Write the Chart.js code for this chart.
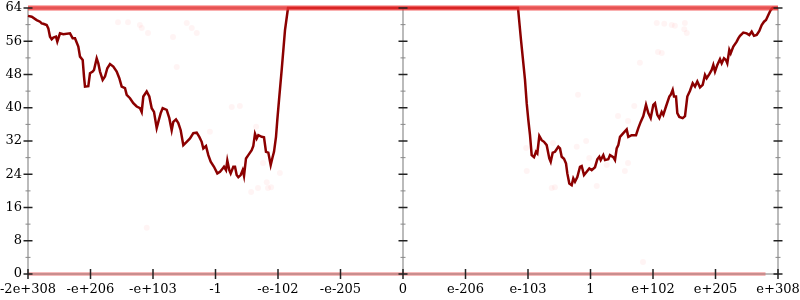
<!DOCTYPE html>
<html lang="en">
<head>
    <meta charset="UTF-8">
    <title>Float spread chart</title>
    <script src="https://cdn.jsdelivr.net/npm/chart.js"></script>
    <style>
        html, body { margin: 0; padding: 0; background: #fff; }
        .chart-container { position: relative; width: 800px; height: 300px; }
    </style>
</head>
<body>
    <div class="chart-container">
        <canvas id="spreadChart" width="800" height="300"></canvas>
    </div>

    <script>
        // Tick labels of the x axis (one per unit from -6 to 6)
        const xTickLabels = ['-2e+308', '-e+206', '-e+103', '-1', '-e-102', '-e-205', '0',
                             'e-206', 'e-103', '1', 'e+102', 'e+205', 'e+308'];
        const yTicks = [0, 8, 16, 24, 32, 40, 48, 56, 64];

        // Main dark red curve
        const curveX = [-6.0, -5.94, -5.861, -5.808, -5.781, -5.755, -5.701, -5.675, -5.648, -5.621,
            -5.595, -5.552, -5.531, -5.488, -5.435, -5.328, -5.285, -5.248, -5.195, -5.168,
            -5.125, -5.104, -5.088, -5.035, -5.008, -4.965, -4.944, -4.901, -4.875, -4.848,
            -4.805, -4.768, -4.731, -4.688, -4.635, -4.581, -4.539, -4.501, -4.448, -4.421,
            -4.368, -4.315, -4.261, -4.208, -4.181, -4.155, -4.101, -4.059, -4.021, -3.984,
            -3.941, -3.915, -3.877, -3.845, -3.781, -3.739, -3.701, -3.675, -3.632, -3.595,
            -3.557, -3.515, -3.461, -3.408, -3.355, -3.301, -3.259, -3.221, -3.195, -3.152,
            -3.115, -3.077, -3.024, -2.971, -2.928, -2.885, -2.864, -2.832, -2.811, -2.779,
            -2.757, -2.715, -2.688, -2.661, -2.635, -2.597, -2.565, -2.544, -2.512, -2.475,
            -2.421, -2.395, -2.368, -2.341, -2.315, -2.261, -2.224, -2.192, -2.155, -2.117,
            -2.085, -2.064, -2.032, -2.011, -1.979, -1.941, -1.888, -1.84,
            1.84, 1.888, 1.952, 1.979, 2.005, 2.032, 2.059, 2.096, 2.128, 2.149,
            2.181, 2.219, 2.256, 2.299, 2.341, 2.363, 2.395, 2.432, 2.485, 2.512,
            2.539, 2.576, 2.608, 2.629, 2.661, 2.699, 2.725, 2.752, 2.789, 2.832,
            2.859, 2.896, 2.939, 2.981, 3.019, 3.072, 3.109, 3.141, 3.163, 3.205,
            3.232, 3.285, 3.312, 3.365, 3.392, 3.419, 3.445, 3.472, 3.525, 3.579,
            3.605, 3.659, 3.728, 3.765, 3.803, 3.845, 3.888, 3.925, 3.963, 4.005,
            4.032, 4.069, 4.101, 4.139, 4.165, 4.208, 4.261, 4.283, 4.315, 4.336,
            4.368, 4.389, 4.421, 4.475, 4.512, 4.549, 4.592, 4.635, 4.672, 4.709,
            4.752, 4.795, 4.832, 4.859, 4.901, 4.939, 4.965, 4.992, 5.029, 5.072,
            5.099, 5.136, 5.168, 5.189, 5.221, 5.243, 5.285, 5.339, 5.365, 5.392,
            5.445, 5.499, 5.541, 5.579, 5.616, 5.659, 5.701, 5.739, 5.776, 5.808,
            5.845, 5.883, 5.915, 6.0];
        const curveY = [62.1, 61.9, 61.1, 60.7, 60.3, 60.2, 59.9, 59.1, 57.1, 56.5,
            56.9, 57.1, 55.9, 57.9, 57.7, 57.9, 56.7, 56.7, 54.7, 52.3,
            51.5, 47.5, 45.1, 45.2, 48.3, 48.7, 49.1, 51.9, 50.7, 48.7,
            46.7, 47.5, 49.5, 50.5, 49.9, 48.7, 47.1, 45.1, 44.7, 43.1,
            42.3, 41.1, 40.3, 39.9, 39.0, 42.7, 43.9, 42.7, 39.9, 39.0,
            35.1, 36.6, 38.7, 39.9, 39.5, 37.5, 34.6, 36.6, 37.2, 36.3,
            34.6, 31.0, 31.8, 32.6, 33.9, 34.0, 33.0, 31.8, 30.2, 30.8,
            28.6, 27.0, 25.8, 24.2, 24.6, 25.4, 25.8, 25.0, 27.3, 25.0,
            24.2, 25.8, 25.8, 23.8, 23.3, 23.8, 25.0, 23.6, 27.8, 28.6,
            29.8, 30.8, 33.7, 32.6, 33.4, 33.0, 32.9, 29.4, 29.2, 26.2,
            28.2, 29.4, 33.0, 37.1, 42.7, 49.1, 58.7, 64,
            64, 56.3, 46.7, 41.1, 37.1, 33.4, 28.6, 28.1, 29.4, 29.0,
            33.2, 32.2, 31.8, 31.0, 27.8, 27.0, 29.2, 29.4, 30.6, 30.2,
            28.2, 27.7, 26.6, 24.2, 21.8, 21.4, 23.0, 22.2, 23.3, 25.8,
            26.0, 23.8, 24.6, 25.4, 25.0, 25.7, 27.6, 28.2, 27.4, 28.6,
            27.4, 27.6, 28.6, 28.1, 27.4, 30.2, 31.0, 33.0, 33.9, 34.8,
            33.0, 33.4, 33.4, 35.1, 36.6, 38.0, 40.7, 38.7, 37.5, 40.7,
            41.1, 38.3, 37.5, 39.0, 38.3, 40.3, 42.7, 43.1, 44.3, 42.7,
            42.7, 38.7, 37.8, 37.5, 38.0, 42.7, 44.1, 45.9, 45.1, 46.3,
            44.9, 45.5, 47.9, 47.1, 48.1, 49.1, 50.3, 48.7, 50.3, 51.7,
            50.7, 51.9, 51.5, 50.7, 53.9, 53.1, 54.7, 55.9, 56.7, 57.3,
            58.1, 57.9, 57.5, 58.3, 57.3, 57.5, 58.5, 59.9, 60.7, 61.1,
            62.3, 63.5, 64, 64];

        // Dense bands of faint samples along the top and bottom
        const topBandX = [-6, 6];
        const topBandY = [64, 64];
        const bottomBandX = [-6, 5.8];
        const bottomBandY = [0, 0];

        // Sparse faint samples
        const dotX = [-4.56, -4.40, -4.21, -4.18, -4.08, -3.68, -3.62, -3.46, -3.38, -3.30,
            -2.74, -2.61, -3.09, -2.35, -2.24, -2.18, -1.97, -2.43, -2.32, -2.16, -2.11,
            2.80, 3.70, 3.44, 3.60, 2.40, 2.78, 2.93, 1.97, 2.98, 3.60, 3.55, 1.98, 2.14,
            2.38, 2.43, 3.10, 3.26, 4.06, 4.18, 4.30, 4.35, 4.51, 4.50, 4.54, 4.08, 4.14,
            3.79, 3.84, -4.10];
        const dotY = [60.6, 60.6, 59.9, 59.2, 58.0, 57.0, 49.8, 60.4, 59.2, 58.0,
            40.2, 40.4, 34.2, 35.4, 26.7, 22.1, 24.3, 19.7, 20.7, 20.7, 20.9,
            43.1, 40.4, 38.0, 36.8, 31.5, 30.6, 32.0, 30.3, 27.9, 26.7, 24.8, 24.8, 29.6,
            20.7, 20.9, 21.2, 26.2, 60.4, 60.2, 59.9, 59.7, 60.4, 58.9, 58.0, 53.4, 53.2,
            50.8, 2.9, 11.1];

        const toPoints = (xs, ys) => xs.map((x, i) => ({ x: x, y: ys[i] }));
        const axisLines = [-6, 0, 6];
        const serif = "'DejaVu Serif', serif";

        // Tick marks crossing the axis lines
        const axisTicks = {
            id: 'axisTicks',
            afterDatasetsDraw(chart) {
                const c = chart.ctx;
                const xs = chart.scales.x, ys = chart.scales.y;
                c.save();
                axisLines.forEach(v => {
                    const px = xs.getPixelForValue(v);
                    for (let t = 0; t <= 64; t += 4) {
                        const py = ys.getPixelForValue(t);
                        const major = t % 8 === 0;
                        const half = major ? 4.5 : 2.5;
                        c.strokeStyle = major ? '#222' : '#888';
                        c.lineWidth = major ? 1.5 : 1;
                        c.beginPath();
                        c.moveTo(px - half, py);
                        c.lineTo(px + half, py);
                        c.stroke();
                    }
                });
                const y0 = ys.getPixelForValue(0);
                c.strokeStyle = '#222';
                c.lineWidth = 1.5;
                for (let v = -6; v <= 6; v++) {
                    const px = xs.getPixelForValue(v);
                    c.beginPath();
                    c.moveTo(px, y0 - 5);
                    c.lineTo(px, y0 + 5);
                    c.stroke();
                }
                c.restore();
            }
        };

        const ctx = document.getElementById('spreadChart').getContext('2d');
        new Chart(ctx, {
            type: 'scatter',
            data: {
                datasets: [
                    {
                        data: toPoints(dotX, dotY),
                        pointRadius: 3,
                        pointBorderWidth: 0,
                        backgroundColor: 'rgba(255, 0, 0, 0.045)',
                    },
                    {
                        type: 'line',
                        data: toPoints(bottomBandX, bottomBandY),
                        borderColor: 'rgba(230, 60, 60, 0.35)',
                        borderWidth: 4,
                        pointRadius: 0,
                        clip: false,
                    },
                    {
                        type: 'line',
                        data: toPoints(topBandX, topBandY),
                        borderColor: 'rgba(240, 50, 50, 0.75)',
                        borderWidth: 5,
                        pointRadius: 0,
                        clip: false,
                    },
                    {
                        type: 'line',
                        data: toPoints(curveX, curveY),
                        borderColor: '#8b0000',
                        borderWidth: 2.5,
                        pointRadius: 0,
                        tension: 0,
                        clip: false,
                    }
                ]
            },
            options: {
                responsive: false,
                animation: false,
                layout: { padding: { left: 0, top: 8, right: 22, bottom: 0 } },
                plugins: {
                    legend: { display: false },
                    tooltip: { enabled: false }
                },
                scales: {
                    x: {
                        type: 'linear',
                        min: -6,
                        max: 6,
                        afterBuildTicks: s => { s.ticks = xTickLabels.map((_, i) => ({ value: i - 6 })); },
                        afterFit: s => { s.height = 26; s.paddingLeft = 0; s.paddingRight = 0; },
                        border: { display: false },
                        grid: {
                            drawTicks: false,
                            lineWidth: 2,
                            color: c => axisLines.includes(c.tick.value) ? '#bbbbbb' : 'rgba(0,0,0,0)'
                        },
                        ticks: {
                            autoSkip: false,
                            maxRotation: 0,
                            padding: 8,
                            color: '#000',
                            font: { family: serif, size: 13 },
                            callback: v => xTickLabels[v + 6]
                        }
                    },
                    y: {
                        min: 0,
                        max: 64,
                        afterBuildTicks: s => { s.ticks = yTicks.map(v => ({ value: v })); },
                        afterFit: s => { s.width = 28; s.paddingTop = 0; s.paddingBottom = 0; },
                        border: { display: false },
                        grid: {
                            drawTicks: false,
                            lineWidth: 2,
                            color: c => (c.tick.value === 0 || c.tick.value === 64) ? '#bbbbbb' : 'rgba(0,0,0,0)'
                        },
                        ticks: {
                            padding: 6,
                            color: '#000',
                            font: { family: serif, size: 13 }
                        }
                    }
                }
            },
            plugins: [axisTicks]
        });
    </script>
</body>
</html>
